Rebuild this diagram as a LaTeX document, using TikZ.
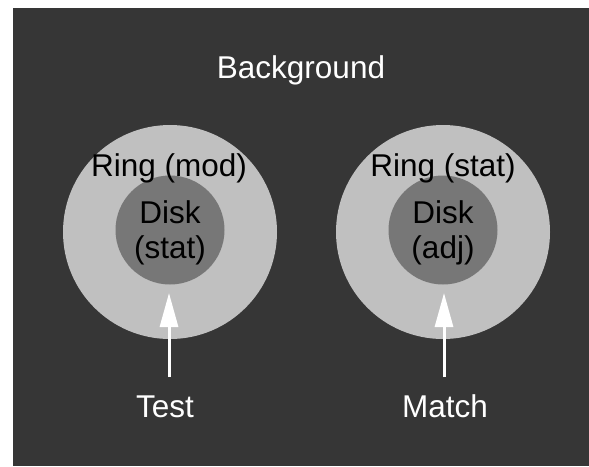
\documentclass[tikz,border=0pt]{standalone}
\usepackage{fontspec}
\setmainfont{Liberation Sans}
\usetikzlibrary{arrows.meta}
\definecolor{bgdark}{HTML}{363636}
\definecolor{ringgray}{HTML}{C0C0C0}
\definecolor{diskgray}{HTML}{777777}
\begin{document}
\begin{tikzpicture}[x=1pt,y=-1pt,
  ringc/.style={circle,fill=ringgray,minimum size=214pt,inner sep=0pt},
  diskc/.style={circle,fill=diskgray,minimum size=109pt,inner sep=0pt},
  lbl/.style={font=\fontsize{31.5}{31.5}\selectfont,anchor=base,inner sep=0pt},
  wlbl/.style={lbl,text=white},
  blbl/.style={lbl,text=black},
  pointer/.style={draw=white,line width=3pt,-{Triangle[length=34pt,width=18pt]}}]
\useasboundingbox (0,0) rectangle (589,466);
\fill[bgdark] (13,8) rectangle (589,466);
\node[ringc] (ringL) at (170,232) {};
\node[diskc] (diskL) at (170,230) {};
\node[ringc] (ringR) at (443,232) {};
\node[diskc] (diskR) at (443,230) {};
\node[wlbl] (bg) at (301,78) {Background};
\node[blbl] (ringLt) at (169,176) {Ring (mod)};
\node[blbl] (diskLt) at (170,223) {Disk};
\node[blbl] (diskLs) at (170,258) {(stat)};
\node[blbl] (ringRt) at (443,176) {Ring (stat)};
\node[blbl] (diskRt) at (443,223) {Disk};
\node[blbl] (diskRs) at (443,258) {(adj)};
\node[wlbl] (test) at (165,417) {Test};
\node[wlbl] (match) at (445,417) {Match};
\coordinate (tL0) at (169,377);
\coordinate (tL1) at (169,293);
\coordinate (tR0) at (444,377);
\coordinate (tR1) at (444,293);
\draw[pointer] (tL0) -- (tL1);
\draw[pointer] (tR0) -- (tR1);
\end{tikzpicture}
\end{document}
